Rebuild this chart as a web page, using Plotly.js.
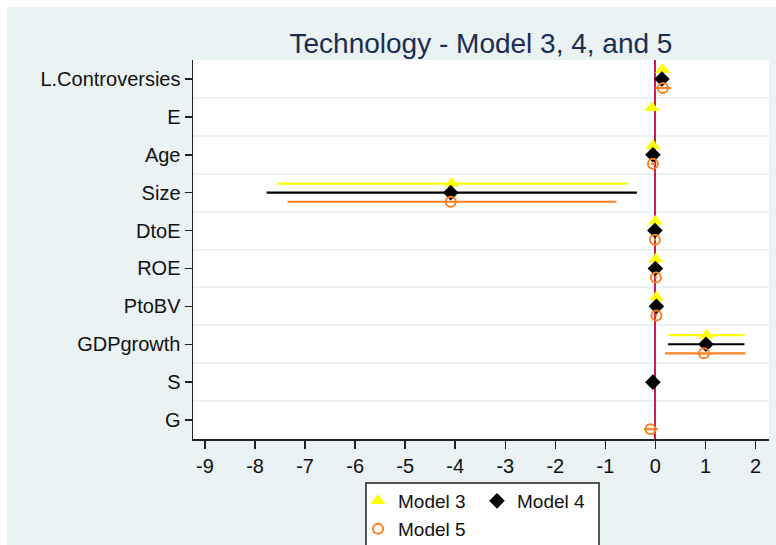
<!DOCTYPE html>
<html><head><meta charset="utf-8">
<script src="https://cdn.plot.ly/plotly-3.0.1.min.js"></script>
<style>
html,body{margin:0;padding:0;background:#ffffff;overflow:hidden;width:776px;height:545px}
#chart{position:absolute;left:7px;top:7px;width:769px;height:538px}
</style>
</head><body><div id="chart"></div>
<script>
// Categories (top to bottom)
const categories = ['L.Controversies','E','Age','Size','DtoE','ROE','PtoBV','GDPgrowth','S','G'];
const xTickVals = [-9,-8,-7,-6,-5,-4,-3,-2,-1,0,1,2];
const xTickText = ['-9','-8','-7','-6','-5','-4','-3','-2','-1','0','1','2'];

// Model 3 (yellow triangles)
const m3Coef = [0.14, -0.07, -0.05, -4.07, 0.00, 0.01, 0.02, 1.02, null, null];
const m3Low  = [0.03, -0.12, -0.09, -7.55, -0.02, -0.01, 0.00, 0.26, null, null];
const m3High = [0.26, -0.02, -0.01, -0.55, 0.02, 0.03, 0.04, 1.78, null, null];

// Model 4 (black diamonds)
const m4Coef = [0.13, null, -0.05, -4.09, -0.01, 0.00, 0.02, 1.01, -0.05, null];
const m4Low  = [0.05, null, -0.09, -7.77, -0.03, -0.02, 0.00, 0.25, -0.09, null];
const m4High = [0.21, null, -0.01, -0.37, 0.01, 0.02, 0.04, 1.78, -0.01, null];

// Model 5 (orange hollow circles)
const m5Coef = [0.15, null, -0.05, -4.09, -0.01, 0.01, 0.02, 0.97, null, -0.10];
const m5Low  = [0.00, null, -0.09, -7.35, -0.03, -0.01, 0.00, 0.19, null, -0.23];
const m5High = [0.31, null, -0.01, -0.78, 0.01, 0.03, 0.04, 1.80, null, 0.05];

const FONT = 'Liberation Sans, Arial, sans-serif';

function mk(name, coef, lo, hi, offset, color, marker, legendName) {
  const y = categories.map((c, i) => i + offset);
  return {
    type: 'scatter', mode: 'markers', name: name, legend: legendName,
    x: coef, y: y,
    marker: marker,
    error_x: {
      type: 'data', symmetric: false,
      array: coef.map((v, i) => v === null ? null : hi[i] - v),
      arrayminus: coef.map((v, i) => v === null ? null : v - lo[i]),
      color: color, thickness: 2.2, width: 0
    },
    hoverinfo: 'x+name'
  };
}

const traces = [
  mk('Model 3', m3Coef, m3Low, m3High, -0.24, '#ffff00',
     {symbol: 'triangle-up', size: 13, color: '#ffff00'}, 'legend'),
  mk('Model 4', m4Coef, m4Low, m4High, 0, '#000000',
     {symbol: 'diamond', size: 12, color: '#000000'}, 'legend'),
  mk('Model 5', m5Coef, m5Low, m5High, 0.24, '#ff8020',
     {symbol: 'circle-open', size: 10, color: '#ff8020', line: {width: 2, color: '#ff8020'}}, 'legend2')
];

const layout = {
  width: 769, height: 538,
  paper_bgcolor: '#eaf2f3', plot_bgcolor: '#ffffff',
  margin: {l: 186, r: 7, t: 53, b: 106, autoexpand: false},
  font: {family: FONT, color: '#111111'},
  title: {
    text: 'Technology - Model 3, 4, and 5',
    font: {family: FONT, size: 28, color: '#1a2e52'},
    x: 0.5, xref: 'paper', xanchor: 'center',
    y: 0.933, yref: 'container', yanchor: 'middle'
  },
  xaxis: {
    range: [-9.24, 2.27], tickmode: 'array', tickvals: xTickVals, ticktext: xTickText,
    showgrid: false, zeroline: true, zerolinecolor: '#c8204c', zerolinewidth: 2,
    showline: true, linecolor: '#222222', linewidth: 1.5,
    ticks: 'outside', ticklen: 8, tickwidth: 1.5, tickcolor: '#222222',
    tickfont: {family: FONT, size: 20, color: '#111111'}
  },
  yaxis: {
    range: [9.5, -0.5], tickmode: 'array',
    tickvals: categories.map((c, i) => i), ticktext: categories,
    showgrid: false, zeroline: false,
    showline: true, linecolor: '#222222', linewidth: 1.5,
    ticks: 'outside', ticklen: 7, tickwidth: 1.5, tickcolor: '#222222',
    tickfont: {family: FONT, size: 20, color: '#111111'},
    minor: {tick0: 0.5, dtick: 1, showgrid: true, gridcolor: '#eaf2f3', gridwidth: 2, ticklen: 0}
  },
  showlegend: true,
  legend: {
    orientation: 'h', x: 0.2865, xanchor: 'left', y: -0.1636, yanchor: 'middle',
    bgcolor: 'rgba(0,0,0,0)', borderwidth: 0, entrywidth: 74, entrywidthmode: 'pixels',
    font: {family: FONT, size: 19, color: '#111111'}
  },
  legend2: {
    orientation: 'h', x: 0.2865, xanchor: 'left', y: -0.2375, yanchor: 'middle',
    bgcolor: 'rgba(0,0,0,0)', borderwidth: 0, entrywidth: 74, entrywidthmode: 'pixels',
    font: {family: FONT, size: 19, color: '#111111'}
  },
  shapes: [{
    type: 'rect', xref: 'paper', yref: 'paper',
    x0: 0.3003, x1: 0.7049, y0: -0.1161, y1: -0.33,
    line: {color: '#222222', width: 1.5}, fillcolor: '#ffffff', layer: 'above'
  }]
};

Plotly.newPlot('chart', traces, layout, {displayModeBar: false, staticPlot: true});
</script>
</body></html>
